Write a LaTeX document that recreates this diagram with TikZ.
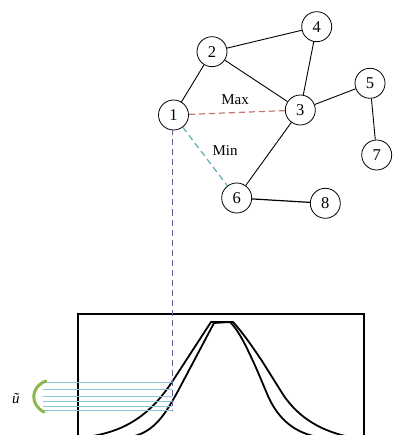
\documentclass[tikz,border=0pt]{standalone}
\usepackage{fontspec}
\setmainfont{Liberation Serif}
\usetikzlibrary{arrows.meta}
\definecolor{maxred}{RGB}{200,115,115}
\definecolor{minteal}{RGB}{90,172,180}
\definecolor{vdash}{RGB}{95,95,150}
\definecolor{hline}{RGB}{140,198,214}
\definecolor{brgreen}{RGB}{140,184,76}
\tikzset{
  vert/.style={circle,draw,line width=0.8pt,minimum size=30pt,inner sep=0pt,font=\fontsize{16.5}{18}\selectfont},
  edge/.style={line width=0.9pt},
  lbl/.style={font=\fontsize{15}{17}\selectfont,inner sep=0pt},
  curve/.style={line width=1.8pt,line join=round},
  hl/.style={hline,line width=0.9pt}
}
\begin{document}
\begin{tikzpicture}[x=1pt,y=-1pt]
\useasboundingbox (0,0) rectangle (392,435);
\clip (0,0) rectangle (392,435);
% graph nodes
\node[vert] (n1) at (173.5,115) {1};
\node[vert] (n2) at (212,51.7) {2};
\node[vert] (n3) at (300.3,110) {3};
\node[vert] (n4) at (316.7,26.7) {4};
\node[vert] (n5) at (370,83.3) {5};
\node[vert] (n6) at (236.7,198) {6};
\node[vert] (n7) at (376.7,155) {7};
\node[vert] (n8) at (325.3,203.3) {8};
% edges
\draw[edge] (n1) -- (n2);
\draw[edge] (n2) -- (n4);
\draw[edge] (n2) -- (n3);
\draw[edge] (n4) -- (n3);
\draw[edge] (n3) -- (n5);
\draw[edge] (n5) -- (n7);
\draw[edge] (n3) -- (n6);
\draw[edge,line width=1.2pt] (n6) -- (n8);
% dashed relations
\draw[maxred,line width=1.2pt,dash pattern=on 6pt off 4pt] (n1) -- (n3);
\draw[minteal,line width=1.2pt,dash pattern=on 6pt off 4pt] (n1) -- (n6);
\node[lbl] (lmax) at (235,100) {Max};
\node[lbl] (lmin) at (225,150.5) {Min};
% box
\coordinate (bl) at (78,436);
\coordinate (tl) at (78,314);
\coordinate (tr) at (364,314);
\coordinate (br) at (364,436);
\draw[line width=1.1pt] (bl) -- (tl) -- (tr) -- (br);
% bell curves (outer and inner)
\draw[curve] (86,437) .. controls (125,432) and (150,415) .. (172,382) -- (211,322) -- (233,322)
  .. controls (242,332) and (250,343) .. (262,361) -- (284,396)
  .. controls (296,413) and (315,430) .. (350,437);
\draw[curve] (130,437) .. controls (155,433) and (167,411) .. (178,391) -- (214,323) -- (230,322)
  .. controls (238,330) and (245,343) .. (257,370) -- (268,396)
  .. controls (276,414) and (290,432) .. (318,437);
% vertical dashed from node 1
\coordinate (vtop) at (172,129.5);
\coordinate (vbot) at (172,410);
\draw[vdash,line width=0.9pt,dash pattern=on 6pt off 4pt] (vtop) -- (vbot);
% horizontal lines
\foreach \yy in {382,389,396,401.5,406,410.5}{
  \draw[hl] (43,\yy) -- (172,\yy);
}
% green bracket
\coordinate (gtop) at (46,381);
\coordinate (gbot) at (44,412);
\draw[brgreen,line width=3pt,line cap=round] (gtop) .. controls (30,387) and (30,405) .. (gbot);
\node[font=\fontsize{15}{17}\selectfont\itshape,inner sep=0pt] (ut) at (16,399) {ũ};
\end{tikzpicture}
\end{document}
